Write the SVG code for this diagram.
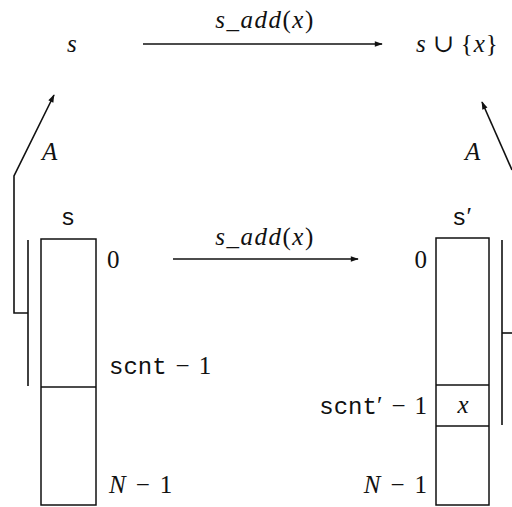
<svg xmlns="http://www.w3.org/2000/svg" width="512" height="507" viewBox="0 0 512 507">
<style>
.m{font-family:"Liberation Serif","DejaVu Serif",serif;font-size:25px;fill:#111}
.i{font-style:italic}
.lab{letter-spacing:1.5px}
.t{font-family:"Liberation Mono","DejaVu Sans Mono",monospace;font-size:24px;fill:#111}
.ln{stroke:#111;stroke-width:1.6;fill:none}
.bx{stroke:#111;stroke-width:1.5;fill:#fff}
</style>
<defs>
<marker id="ah" viewBox="0 0 10 10" refX="9" refY="5" markerWidth="10" markerHeight="8" markerUnits="userSpaceOnUse" orient="auto">
<path d="M0,1.5 L10,5 L0,8.5 Z" fill="#111"/>
</marker>
</defs>
<g id="connectors">
<line class="ln" x1="143" y1="44" x2="382" y2="44" marker-end="url(#ah)"/>
<line class="ln" x1="173" y1="259" x2="358" y2="259" marker-end="url(#ah)"/>
<polyline class="ln" points="28,313 14,313 14,176 54,95" marker-end="url(#ah)"/>
<line class="ln" x1="28" y1="240" x2="28" y2="386"/>
<polyline class="ln" points="512,333 502,333"/>
<line class="ln" x1="502" y1="240" x2="502" y2="425"/>
<line class="ln" x1="512" y1="170" x2="482" y2="102" marker-end="url(#ah)"/>
<text class="m lab" x="265" y="28" text-anchor="middle"><tspan class="i">s</tspan>_<tspan class="i">add</tspan>(<tspan class="i">x</tspan>)</text>
<text class="m lab" x="265" y="245" text-anchor="middle"><tspan class="i">s</tspan>_<tspan class="i">add</tspan>(<tspan class="i">x</tspan>)</text>
<text class="m i" x="42" y="160" font-size="27">A</text>
<text class="m i" x="465" y="160" font-size="27">A</text>
</g>
<g id="node-s">
<text class="m i" x="67" y="52">s</text>
</g>
<g id="node-union">
<text class="m" x="416" y="52"><tspan class="i">s</tspan><tspan dx="7">∪</tspan><tspan dx="7">{</tspan><tspan class="i" dx="1">x</tspan><tspan dx="1">}</tspan></text>
</g>
<g id="node-array-s">
<text class="t" x="68" y="225" text-anchor="middle">s</text>
<rect class="bx" x="41" y="239" width="55" height="266"/>
<line class="ln" x1="41" y1="387" x2="96" y2="387"/>
<text class="m" x="107" y="268">0</text>
<text class="t" x="109" y="374">scnt<tspan class="m" dx="9">−</tspan><tspan class="m" dx="9">1</tspan></text>
<text class="m" x="109" y="493"><tspan class="i">N</tspan><tspan dx="10">−</tspan><tspan dx="10">1</tspan></text>
</g>
<g id="node-array-s2">
<text class="t" x="462" y="225" text-anchor="middle">s<tspan class="m">′</tspan></text>
<rect class="bx" x="436" y="238" width="53" height="267"/>
<line class="ln" x1="436" y1="385" x2="489" y2="385"/>
<line class="ln" x1="436" y1="426" x2="489" y2="426"/>
<text class="m i" x="463" y="413" text-anchor="middle">x</text>
<text class="m" x="427" y="268" text-anchor="end">0</text>
<text class="t" x="427" y="414" text-anchor="end">scnt<tspan class="m">′</tspan><tspan class="m" dx="9">−</tspan><tspan class="m" dx="9">1</tspan></text>
<text class="m" x="427" y="493" text-anchor="end"><tspan class="i">N</tspan><tspan dx="10">−</tspan><tspan dx="10">1</tspan></text>
</g>
</svg>
